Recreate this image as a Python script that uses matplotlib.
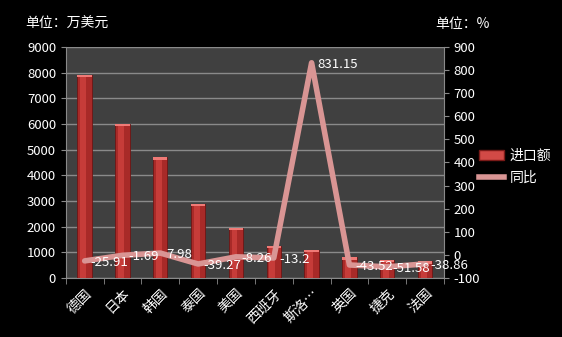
import numpy as np
import matplotlib.pyplot as plt
from matplotlib.patches import Rectangle
from matplotlib.lines import Line2D

plt.rcParams['font.family'] = ['Noto Sans CJK SC', 'DejaVu Sans']
plt.rcParams['axes.unicode_minus'] = False

# 数据
countries = ['德国', '日本', '韩国', '泰国', '美国', '西班牙', '斯洛…', '英国', '捷克', '法国']
imports = [7900, 6000, 4700, 2900, 1950, 1250, 1100, 800, 700, 650]  # 万美元
yoy = [-25.91, -1.69, 7.98, -39.27, -8.26, -13.2, 831.15, -43.52, -51.58, -38.86]  # %

fig = plt.figure(figsize=(5.62, 3.37), dpi=100, facecolor='black')
ax = fig.add_axes([0.117, 0.175, 0.673, 0.686])
ax.set_facecolor('#404040')
x = np.arange(len(countries))

bars = ax.bar(x, imports, width=0.38, color='#a82a28', edgecolor='#6e1614', linewidth=0.6, zorder=3)
# 简单的立体效果：高光和顶面
for b in bars:
    bx, bw, bh = b.get_x(), b.get_width(), b.get_height()
    ax.add_patch(Rectangle((bx + bw * 0.2, 0), bw * 0.4, bh, color='#c63c39', lw=0, zorder=3.5))
    ax.add_patch(Rectangle((bx, bh - 90), bw, 90, color='#f07a76', lw=0, zorder=3.6))

ax.set_ylim(0, 9000)
ax.set_yticks(range(0, 9001, 1000))
ax.set_xlim(-0.5, len(countries) - 0.5)
ax.set_xticks(x)
ax.set_xticklabels(countries, rotation=45, ha='right', rotation_mode='anchor')
ax.grid(axis='y', color='#8a8a8a', linewidth=1, zorder=0)
ax.set_axisbelow(True)
for s in ['top', 'right']:
    ax.spines[s].set_visible(False)
for s in ['left', 'bottom']:
    ax.spines[s].set_color('#8a8a8a')
ax.tick_params(colors='white', labelsize=9.5)
ax.tick_params(axis='x', length=4, color='#8a8a8a', labelsize=10)
ax.tick_params(axis='y', color='#8a8a8a')
# x轴刻度放在类别之间
ax.set_xticks(np.arange(-0.5, len(countries), 1), minor=True)
ax.tick_params(axis='x', which='major', length=0, pad=6)
ax.tick_params(axis='x', which='minor', length=4, color='#8a8a8a')

ax2 = ax.twinx()
ax2.plot(x, yoy, color='#d99594', linewidth=4, solid_capstyle='round', solid_joinstyle='round', zorder=5)
ax2.set_ylim(-100, 900)
ax2.set_yticks(range(-100, 901, 100))
for s in ['top', 'left', 'bottom']:
    ax2.spines[s].set_visible(False)
ax2.spines['right'].set_color('#8a8a8a')
ax2.tick_params(colors='white', labelsize=9.5)
ax2.tick_params(axis='y', color='#8a8a8a')
for xi, v in zip(x, yoy):
    ax2.annotate(f'{v:g}', (xi, v), xytext=(4, -1), textcoords='offset points',
                 color='white', fontsize=9.5, ha='left', va='center', zorder=6)

fig.text(0.045, 0.93, '单位：万美元', color='white', fontsize=10, va='center')
fig.text(0.775, 0.93, '单位：%', color='white', fontsize=10, va='center')

handles = [Rectangle((0, 0), 1, 1, facecolor='#d24a46', edgecolor='#7a1a18'),
           Line2D([0], [0], color='#d99594', linewidth=4)]
leg = fig.legend(handles, ['进口额', '同比'], loc='center left', bbox_to_anchor=(0.83, 0.505),
                 frameon=False, fontsize=10, labelcolor='white', handlelength=1.8,
                 handletextpad=0.4, labelspacing=0.6)

fig.savefig('out.png', dpi=100, facecolor='black')
